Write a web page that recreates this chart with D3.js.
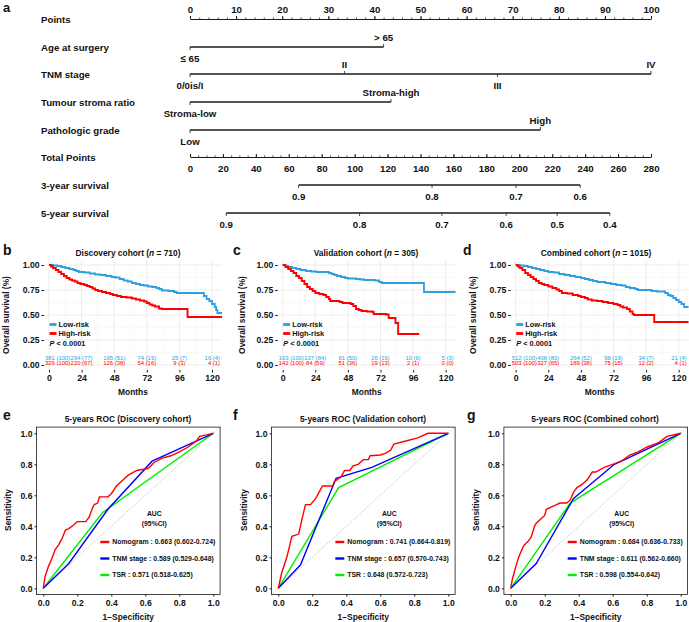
<!DOCTYPE html>
<html><head><meta charset="utf-8">
<script src="https://cdn.jsdelivr.net/npm/d3@7"></script>
<style>
body{margin:0;background:#fff;}
svg{display:block;}
text{font-family:"Liberation Sans",Arial,Helvetica,sans-serif;font-weight:bold;fill:#111;}
</style></head><body>
<svg id="c" width="689" height="622"></svg>
<script>
// ---------------- DATA ----------------
// Nomogram (panel a)
const nomoRowLabels = ["Points","Age at surgery","TNM stage","Tumour stroma ratio","Pathologic grade","Total Points","3-year survival","5-year survival"];
const pointsTicks = [0,10,20,30,40,50,60,70,80,90,100];
const totalTicks = [0,20,40,60,80,100,120,140,160,180,200,220,240,260,280];
const ageLevels = ["\u2264 65","> 65"];           const agePoints = [0,42];
const tnmLevels = ["0/0is/I","II","III","IV"];    const tnmPoints = [0,33.5,66.7,100];
const tsrLevels = ["Stroma-low","Stroma-high"];   const tsrPoints = [0,43.6];
const gradeLevels = ["Low","High"];               const gradePoints = [0,76];
const surv3Labels = ["0.9","0.8","0.7","0.6"];    const surv3Total = [66,147,198,237];
const surv5Labels = ["0.9","0.8","0.7","0.6","0.5","0.4"]; const surv5Total = [22,103,153,192,223,255];

// Kaplan-Meier curves [month, survival]
const discLow = [[0,1],[3,0.995],[6,0.99],[9,0.98],[12,0.97],[15,0.96],[18,0.95],[20,0.94],[22,0.93],[26,0.925],[30,0.915],[34,0.905],[38,0.9],[42,0.89],[46,0.88],[49,0.875],[52,0.86],[55,0.845],[58,0.835],[61,0.82],[64,0.81],[67,0.8],[70,0.795],[73,0.785],[76,0.78],[79,0.77],[81,0.76],[83,0.745],[88,0.74],[92,0.73],[94,0.72],[112,0.72],[114,0.69],[116,0.66],[118,0.64],[120,0.61],[122,0.58],[123,0.55],[124,0.52],[127.4,0.52]];
const discHigh = [[0,1],[1.5,0.985],[3,0.97],[5,0.95],[7,0.93],[9,0.91],[11,0.89],[13,0.87],[15,0.855],[17,0.845],[19,0.835],[21,0.82],[23,0.81],[26,0.8],[28,0.79],[30,0.78],[32,0.765],[34,0.75],[36,0.74],[39,0.73],[42,0.72],[45,0.71],[47,0.7],[50,0.69],[53,0.68],[57,0.675],[61,0.665],[64,0.655],[67,0.645],[70,0.635],[72,0.62],[74,0.605],[76,0.595],[78,0.585],[81,0.565],[83,0.56],[102,0.48],[127.4,0.48]];
const valLow = [[0,1],[2,0.99],[4,0.98],[7,0.97],[10,0.96],[13,0.95],[17,0.94],[21,0.935],[25,0.93],[34,0.92],[36,0.91],[38,0.9],[40,0.89],[43,0.88],[46,0.87],[48,0.865],[54,0.86],[57,0.855],[60,0.85],[68,0.845],[71,0.83],[73,0.82],[104,0.73],[127.4,0.73]];
const valHigh = [[0,1],[2,0.98],[4,0.96],[6,0.94],[8,0.92],[10,0.89],[12,0.87],[14,0.84],[16,0.81],[18,0.78],[20,0.76],[22,0.74],[24,0.72],[27,0.71],[30,0.7],[32,0.68],[34,0.66],[35,0.64],[42,0.63],[44,0.62],[50,0.61],[52,0.59],[54,0.56],[56,0.55],[58,0.54],[62,0.535],[66,0.53],[67,0.51],[76,0.505],[78,0.47],[82,0.47],[83,0.42],[85,0.31],[100.5,0.31]];
const combLow = [[0,1],[3,0.995],[6,0.99],[9,0.98],[12,0.97],[15,0.96],[18,0.95],[21,0.94],[24,0.93],[28,0.925],[32,0.91],[36,0.9],[40,0.89],[44,0.88],[48,0.87],[51,0.86],[54,0.85],[57,0.84],[60,0.83],[66,0.82],[70,0.81],[74,0.8],[78,0.795],[81,0.78],[84,0.77],[88,0.76],[90,0.75],[100,0.74],[104,0.735],[110,0.72],[112,0.7],[114,0.69],[116,0.67],[118,0.65],[120,0.63],[122,0.61],[124,0.58],[127.4,0.58]];
const combHigh = [[0,1],[1.5,0.985],[3,0.97],[5,0.95],[7,0.92],[9,0.9],[11,0.88],[13,0.86],[15,0.84],[17,0.82],[19,0.81],[21,0.8],[24,0.785],[27,0.77],[30,0.755],[32,0.74],[34,0.72],[38,0.715],[42,0.7],[46,0.69],[48,0.68],[51,0.67],[53,0.655],[56,0.645],[60,0.64],[64,0.63],[68,0.62],[72,0.61],[75,0.6],[77,0.585],[79,0.575],[82,0.56],[84,0.535],[86,0.51],[87,0.5],[102,0.43],[127.4,0.43]];

const kmMonthTicks = [0,24,48,72,96,120];
const kmSurvTicks = [0,0.25,0.5,0.75,1];
const discRiskLow = ["381 (100)","294 (77)","195 (51)","74 (19)","25 (7)","16 (4)"];
const discRiskHigh = ["329 (100)","220 (67)","126 (38)","54 (16)","9 (3)","4 (1)"];
const valRiskLow = ["163 (100)","137 (84)","81 (50)","26 (16)","10 (6)","5 (3)"];
const valRiskHigh = ["142 (100)","84 (59)","51 (36)","19 (13)","2 (1)","0 (0)"];
const combRiskLow = ["512 (100)","408 (80)","264 (52)","98 (19)","34 (7)","21 (4)"];
const combRiskHigh = ["503 (100)","327 (65)","189 (38)","75 (15)","12 (2)","4 (1)"];

// ROC curves [1-specificity, sensitivity]
const rocTicks = [0,0.2,0.4,0.6,0.8,1];
const discNomo = [[0,0],[0.01,0.075],[0.03,0.14],[0.05,0.19],[0.07,0.25],[0.09,0.28],[0.11,0.32],[0.13,0.376],[0.15,0.385],[0.18,0.41],[0.2,0.43],[0.25,0.43],[0.27,0.46],[0.29,0.52],[0.3,0.54],[0.32,0.55],[0.33,0.59],[0.38,0.59],[0.4,0.61],[0.43,0.66],[0.47,0.7],[0.5,0.73],[0.55,0.76],[0.6,0.77],[0.62,0.775],[0.65,0.81],[0.7,0.84],[0.75,0.855],[0.8,0.88],[0.85,0.91],[0.9,0.95],[0.92,0.98],[0.96,0.99],[1,1]];
const discTNM = [[0,0],[0.15,0.16],[0.38,0.51],[0.64,0.82],[1,1]];
const discTSR = [[0,0],[0.35,0.49],[1,1]];
const valNomo = [[0,0],[0.02,0.1],[0.05,0.2],[0.07,0.29],[0.08,0.335],[0.12,0.35],[0.14,0.45],[0.16,0.54],[0.19,0.54],[0.22,0.58],[0.24,0.62],[0.26,0.66],[0.32,0.66],[0.33,0.69],[0.37,0.72],[0.39,0.76],[0.42,0.76],[0.44,0.79],[0.47,0.8],[0.5,0.83],[0.53,0.83],[0.54,0.855],[0.6,0.86],[0.63,0.87],[0.66,0.89],[0.68,0.93],[0.75,0.95],[0.82,0.97],[0.88,1],[1,1]];
const valTNM = [[0,0],[0.13,0.15],[0.34,0.71],[0.55,0.78],[1,1]];
const valTSR = [[0,0],[0.355,0.65],[1,1]];
const combNomo = [[0,0],[0.01,0.06],[0.03,0.14],[0.05,0.21],[0.07,0.26],[0.08,0.28],[0.1,0.3],[0.12,0.33],[0.14,0.4],[0.15,0.42],[0.18,0.45],[0.2,0.47],[0.21,0.51],[0.25,0.53],[0.27,0.54],[0.29,0.55],[0.33,0.55],[0.35,0.57],[0.37,0.62],[0.39,0.65],[0.42,0.67],[0.45,0.7],[0.48,0.75],[0.5,0.75],[0.55,0.78],[0.6,0.8],[0.65,0.82],[0.7,0.86],[0.75,0.88],[0.8,0.91],[0.87,0.94],[0.92,0.98],[1,1]];
const combTNM = [[0,0],[0.15,0.16],[0.37,0.58],[0.61,0.8],[1,1]];
const combTSR = [[0,0],[0.35,0.55],[1,1]];
const discAUC = ["Nomogram : 0.663 (0.602-0.724)","TNM stage : 0.589 (0.529-0.648)","TSR : 0.571 (0.518-0.625)"];
const valAUC  = ["Nomogram : 0.741 (0.664-0.819)","TNM stage : 0.657 (0.570-0.743)","TSR : 0.648 (0.572-0.723)"];
const combAUC = ["Nomogram : 0.684 (0.636-0.733)","TNM stage : 0.611 (0.562-0.660)","TSR : 0.598 (0.554-0.642)"];

// ---------------- DRAW ----------------
const svg = d3.select("#c");
const LOWC = "#2E9FDF", HIGHC = "#ff0000";
const INK = "#1a1a1a";

function cleanAxis(g, size){
  g.attr("font-family", null).attr("font-size", null);
  g.selectAll("text").style("font-size", size + "px").attr("fill", "#111");
  g.selectAll("line").attr("stroke", INK);
}
function letter(t, x, y, size){
  svg.append("text").attr("x", x).attr("y", y).style("font-size",(size||14)+"px").text(t);
}

// ===== Panel a: nomogram =====
letter("a", 3, 12, 13);
const nomo = svg.append("g");
const xPts = d3.scaleLinear().domain([0,100]).range([190,651]);
const xTot = d3.scaleLinear().domain([0,280]).range([190,651]);
const rowY = [19,47,74,102,130,157,185,213];
const NF = 9.7;

nomo.selectAll("text.rowlab").data(nomoRowLabels).join("text")
  .attr("class","rowlab").attr("x",41).attr("y",(d,i)=>rowY[i]+3.5)
  .style("font-size", NF+"px").text(d=>d);

// Points axis
const gPts = nomo.append("g").attr("transform",`translate(0,${rowY[0]})`)
  .call(d3.axisTop(xPts).tickValues(pointsTicks).tickSize(3).tickSizeOuter(0).tickPadding(3));
cleanAxis(gPts, NF);
gPts.select(".domain").attr("stroke", INK).attr("stroke-width", 1.1);
nomo.append("g").attr("transform",`translate(0,${rowY[0]})`)
  .call(d3.axisTop(xPts).tickValues(d3.range(0,101,2)).tickSize(1.6).tickSizeOuter(0).tickFormat(""))
  .call(g=>{g.select(".domain").remove(); g.selectAll("line").attr("stroke",INK).attr("stroke-width",0.7);});

// variable rows
function nomoVar(rowIdx, levels, pts){
  const y = rowY[rowIdx];
  nomo.append("line").attr("x1", xPts(d3.min(pts))).attr("x2", xPts(d3.max(pts)))
    .attr("y1", y).attr("y2", y).attr("stroke", INK).attr("stroke-width", 1.3);
  levels.forEach((lab,i)=>{
    const above = i % 2 === 1;
    const x = xPts(pts[i]);
    nomo.append("line").attr("x1",x).attr("x2",x).attr("y1",y).attr("y2", above ? y-3 : y+3)
      .attr("stroke", INK).attr("stroke-width", 0.8);
    nomo.append("text").attr("x", x).attr("y", above ? y-6.5 : y+14.5)
      .attr("text-anchor","middle").style("font-size", NF+"px").text(lab);
  });
}
nomoVar(1, ageLevels, agePoints);
nomoVar(2, tnmLevels, tnmPoints);
nomoVar(3, tsrLevels, tsrPoints);
nomoVar(4, gradeLevels, gradePoints);

// Total points axis
const gTot = nomo.append("g").attr("transform",`translate(0,${rowY[5]})`)
  .call(d3.axisBottom(xTot).tickValues(totalTicks).tickSize(-3).tickSizeOuter(0).tickPadding(8));
cleanAxis(gTot, NF);
gTot.select(".domain").attr("stroke", INK).attr("stroke-width", 1.1);
nomo.append("g").attr("transform",`translate(0,${rowY[5]})`)
  .call(d3.axisBottom(xTot).tickValues(d3.range(0,281,5)).tickSize(-1.6).tickSizeOuter(0).tickFormat(""))
  .call(g=>{g.select(".domain").remove(); g.selectAll("line").attr("stroke",INK).attr("stroke-width",0.7);});

// survival rows
function nomoSurv(rowIdx, labels, tot){
  const y = rowY[rowIdx];
  nomo.append("line").attr("x1", xTot(d3.min(tot))).attr("x2", xTot(d3.max(tot)))
    .attr("y1", y).attr("y2", y).attr("stroke", INK).attr("stroke-width", 1.3);
  labels.forEach((lab,i)=>{
    const x = xTot(tot[i]);
    nomo.append("line").attr("x1",x).attr("x2",x).attr("y1",y).attr("y2",y+3)
      .attr("stroke", INK).attr("stroke-width", 0.8);
    nomo.append("text").attr("x",x).attr("y",y+14.5).attr("text-anchor","middle")
      .style("font-size", NF+"px").text(lab);
  });
}
nomoSurv(6, surv3Labels, surv3Total);
nomoSurv(7, surv5Labels, surv5Total);

// ===== KM panels =====
function drawKM(c){
  const g = svg.append("g");
  const x = d3.scaleLinear().domain([0,120]).range([c.zx, c.zx+163]);
  const y = d3.scaleLinear().domain([0,1]).range([365,265]);
  const px0 = c.zx-5, px1 = c.zx+173, py0 = 260, py1 = 370;
  letter(c.letter, c.lx, 255);
  const t = g.append("text").attr("x", c.tx).attr("y", 256).attr("text-anchor","middle").style("font-size","8.4px");
  t.append("tspan").text(c.title + " (");
  t.append("tspan").style("font-style","italic").text("n");
  t.append("tspan").text(" = " + c.n + ")");
  // grid
  const minorX = [12,36,60,84,108];
  const minorY = [0.125,0.375,0.625,0.875];
  g.selectAll("line.gmx").data(minorX).join("line").attr("x1",d=>x(d)).attr("x2",d=>x(d)).attr("y1",py0).attr("y2",py1).attr("stroke","#f2f2f2").attr("stroke-width",0.5);
  g.selectAll("line.gmy").data(minorY).join("line").attr("y1",d=>y(d)).attr("y2",d=>y(d)).attr("x1",px0).attr("x2",px1).attr("stroke","#f2f2f2").attr("stroke-width",0.5);
  g.selectAll("line.gx").data(kmMonthTicks).join("line").attr("x1",d=>x(d)).attr("x2",d=>x(d)).attr("y1",py0).attr("y2",py1).attr("stroke","#e4e4e4").attr("stroke-width",0.7);
  g.selectAll("line.gy").data(kmSurvTicks).join("line").attr("y1",d=>y(d)).attr("y2",d=>y(d)).attr("x1",px0).attr("x2",px1).attr("stroke","#e4e4e4").attr("stroke-width",0.7);
  // axes
  const gy = g.append("g").attr("transform",`translate(${px0},0)`)
    .call(d3.axisLeft(y).tickValues(kmSurvTicks).tickFormat(d3.format(".2f")).tickSize(2.5).tickPadding(2).tickSizeOuter(0));
  cleanAxis(gy, 8.6); gy.select(".domain").remove();
  const gx = g.append("g").attr("transform",`translate(0,${py1})`)
    .call(d3.axisBottom(x).tickValues(kmMonthTicks).tickSize(2.5).tickPadding(2.5).tickSizeOuter(0));
  cleanAxis(gx, 8.8); gx.select(".domain").remove();
  g.append("text").attr("x",(px0+px1)/2).attr("y",395).attr("text-anchor","middle").style("font-size","8.4px").text("Months");
  g.append("text").attr("transform",`translate(${c.ytx},315) rotate(-90)`).attr("text-anchor","middle").style("font-size","8.4px").text("Overall survival (%)");
  // curves
  const clipId = "clip" + c.letter;
  svg.append("clipPath").attr("id", clipId).append("rect").attr("x",px0).attr("y",py0).attr("width",px1-px0).attr("height",py1-py0);
  const line = d3.line().x(d=>x(d[0])).y(d=>y(d[1])).curve(d3.curveStepAfter);
  g.append("path").datum(c.low).attr("d",line).attr("fill","none").attr("stroke",LOWC).attr("stroke-width",1.8).attr("clip-path",`url(#${clipId})`);
  g.append("path").datum(c.high).attr("d",line).attr("fill","none").attr("stroke",HIGHC).attr("stroke-width",1.9).attr("clip-path",`url(#${clipId})`);
  // legend
  const lx = c.zx + 0.5;
  [["Low-risk",LOWC,324.5],["High-risk",HIGHC,333.5]].forEach(([lab,col,yy])=>{
    g.append("rect").attr("x",lx).attr("y",yy-1.4).attr("width",7).attr("height",2.8).attr("fill",col);
    g.append("text").attr("x",lx+9).attr("y",yy+2.7).style("font-size","7.4px").text(lab);
  });
  const p = g.append("text").attr("x",lx).attr("y",346).style("font-size","7.4px");
  p.append("tspan").style("font-style","italic").text("P");
  p.append("tspan").text(" < 0.0001");
  // risk table
  [[c.riskLow,LOWC,359.8],[c.riskHigh,HIGHC,364.8]].forEach(([arr,col,yy])=>{
    g.selectAll(null).data(arr).join("text")
      .attr("x",(d,i)=> i===0 ? x(kmMonthTicks[i])-4 : (i===arr.length-1 ? x(kmMonthTicks[i])+8 : x(kmMonthTicks[i])))
      .attr("y",yy)
      .attr("text-anchor",(d,i)=> i===0 ? "start" : (i===arr.length-1 ? "end" : "middle"))
      .style("font-size","5.9px").style("font-weight","normal").style("fill",col).text(d=>d);
  });
}
drawKM({letter:"b", lx:3, tx:128, title:"Discovery cohort", n:710, zx:49, ytx:9, low:discLow, high:discHigh, riskLow:discRiskLow, riskHigh:discRiskHigh});
drawKM({letter:"c", lx:233, tx:366, title:"Validation cohort", n:305, zx:282.7, ytx:245, low:valLow, high:valHigh, riskLow:valRiskLow, riskHigh:valRiskHigh});
drawKM({letter:"d", lx:463, tx:596, title:"Combined cohort", n:1015, zx:515.7, ytx:476, low:combLow, high:combHigh, riskLow:combRiskLow, riskHigh:combRiskHigh});

// ===== ROC panels =====
function drawROC(c){
  const g = svg.append("g");
  const x = d3.scaleLinear().domain([0,1]).range([c.zx, c.zx+170]);
  const y = d3.scaleLinear().domain([0,1]).range([588.3, 433.3]);
  letter(c.letter, c.lx, 420);
  g.append("text").attr("x",c.tx).attr("y",422).attr("text-anchor","middle").style("font-size","8.4px").text(c.title);
  g.append("line").attr("x1",x(-0.04)).attr("y1",y(-0.04)).attr("x2",x(1.04)).attr("y2",y(1.04))
    .attr("stroke","#9a9a9a").attr("stroke-width",0.7).attr("stroke-dasharray","1,1.5");
  g.append("rect").attr("x",x(-0.04)).attr("y",y(1.04)).attr("width",x(1.04)-x(-0.04)).attr("height",y(-0.04)-y(1.04))
    .attr("fill","none").attr("stroke",INK).attr("stroke-width",0.8);
  const gx = g.append("g").attr("transform",`translate(0,${y(-0.04)})`)
    .call(d3.axisBottom(x).tickValues(rocTicks).tickFormat(d3.format(".1f")).tickSize(2).tickPadding(3.5).tickSizeOuter(0));
  cleanAxis(gx, 8.6); gx.select(".domain").remove();
  const gy = g.append("g").attr("transform",`translate(${x(-0.04)},0)`)
    .call(d3.axisLeft(y).tickValues(rocTicks).tickFormat(d3.format(".1f")).tickSize(2).tickPadding(2).tickSizeOuter(0));
  cleanAxis(gy, 8.6); gy.select(".domain").remove();
  g.append("text").attr("x",(x(-0.04)+x(1.04))/2).attr("y",620).attr("text-anchor","middle").style("font-size","8.4px").text("1\u2212Specificity");
  g.append("text").attr("transform",`translate(${c.ytx},510) rotate(-90)`).attr("text-anchor","middle").style("font-size","8.4px").text("Sensitivity");
  const line = d3.line().x(d=>x(d[0])).y(d=>y(d[1]));
  g.append("path").datum(c.tsr).attr("d",line).attr("fill","none").attr("stroke","#00ee00").attr("stroke-width",1.4);
  g.append("path").datum(c.tnm).attr("d",line).attr("fill","none").attr("stroke","#0000ff").attr("stroke-width",1.4);
  g.append("path").datum(c.nomo).attr("d",line).attr("fill","none").attr("stroke","#ff0000").attr("stroke-width",1.4);
  g.append("text").attr("x",c.zx+111).attr("y",516).attr("text-anchor","middle").style("font-size","6.8px").text("AUC");
  g.append("text").attr("x",c.zx+111).attr("y",525.5).attr("text-anchor","middle").style("font-size","6.8px").text("(95%CI)");
  const cols = ["#ff0000","#0000ff","#00ee00"];
  const ys = [542,558.5,575];
  c.auc.forEach((lab,i)=>{
    g.append("line").attr("x1",c.zx+57).attr("x2",c.zx+66).attr("y1",ys[i]).attr("y2",ys[i]).attr("stroke",cols[i]).attr("stroke-width",2.4);
    g.append("text").attr("x",c.zx+69).attr("y",ys[i]+2.4).style("font-size","6.9px").text(lab);
  });
}
drawROC({letter:"e", lx:3, tx:128, title:"5-years ROC (Discovery cohort)", zx:43.3, ytx:11, nomo:discNomo, tnm:discTNM, tsr:discTSR, auc:discAUC});
drawROC({letter:"f", lx:233, tx:363, title:"5-years ROC (Validation cohort)", zx:278.3, ytx:246.5, nomo:valNomo, tnm:valTNM, tsr:valTSR, auc:valAUC});
drawROC({letter:"g", lx:467, tx:595, title:"5-years ROC (Combined cohort)", zx:510.7, ytx:479, nomo:combNomo, tnm:combTNM, tsr:combTSR, auc:combAUC});
</script>
</body></html>
